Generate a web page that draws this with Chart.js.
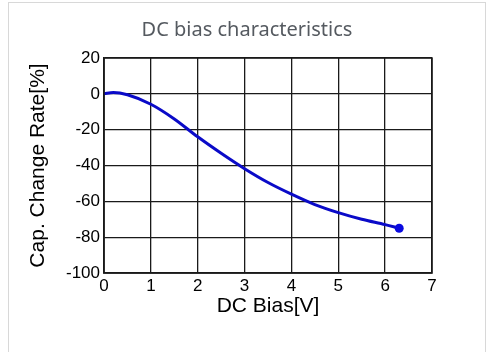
<!DOCTYPE html>
<html>
<head>
<meta charset="utf-8">
<script src="https://cdn.jsdelivr.net/npm/chart.js@4"></script>
<style>
  html, body { margin: 0; padding: 0; background: #fff; }
  #frame { position: absolute; left: 8px; top: 2px; width: 476px; height: 360px; border: 1px solid #d8d8d8; }
  #wrap { position: absolute; left: 0; top: 0; width: 486px; height: 352px; }
</style>
</head>
<body>
<div id="frame"></div>
<div id="wrap"><canvas id="chartCanvas" width="486" height="352"></canvas></div>
<script>
// DC bias curve
const biasV = [0, 0.2, 0.5, 1, 1.5, 2, 2.5, 3, 3.5, 4, 4.5, 5, 5.5, 6, 6.3];
const capChange = [0, 0.8, -0.5, -5.8, -14, -24, -33.2, -41.8, -49.5, -56, -61.8, -66.3, -70, -73, -75];
const xTicks = [0, 1, 2, 3, 4, 5, 6, 7];
const yTicks = [20, 0, -20, -40, -60, -80, -100];
const chartTitle = 'DC bias characteristics';

const tickFont = { family: '"Liberation Sans", Arial, sans-serif', size: 17 };
const axisTitleFont = { family: '"Liberation Sans", Arial, sans-serif', size: 21 };

const points = biasV.map((v, i) => ({ x: v, y: capChange[i] }));
// only the last point gets a marker
const radii = biasV.map((v, i) => (i === biasV.length - 1 ? 4.5 : 0));

const ctx = document.getElementById('chartCanvas').getContext('2d');
const chart = new Chart(ctx, {
  type: 'scatter',
  data: {
    datasets: [{
      data: points,
      showLine: true,
      borderColor: '#0a0ac8',
      backgroundColor: '#0a0ae0',
      borderWidth: 3,
      pointRadius: radii,
      pointHoverRadius: radii,
      pointBorderWidth: 0,
      cubicInterpolationMode: 'monotone'
    }]
  },
  options: {
    responsive: false,
    animation: false,
    layout: { padding: { left: 0, right: 54, top: 58, bottom: 0 } },
    plugins: {
      legend: { display: false },
      tooltip: { enabled: false },
      title: { display: false }
    },
    scales: {
      x: {
        type: 'linear',
        min: 0,
        max: 7,
        afterBuildTicks: s => { s.ticks = xTicks.map(v => ({ value: v })); },
        afterFit: s => { s.height = 79; },
        ticks: { color: '#000', font: tickFont, padding: 3, maxRotation: 0 },
        grid: { color: '#1a1a1a', lineWidth: 1.3, drawTicks: false },
        border: { color: '#1a1a1a', width: 1.5 },
        title: {
          display: true,
          text: 'DC Bias[V]',
          color: '#000',
          font: axisTitleFont,
          padding: { top: 0, bottom: 33 }
        }
      },
      y: {
        min: -100,
        max: 20,
        afterBuildTicks: s => { s.ticks = yTicks.map(v => ({ value: v })); },
        afterFit: s => { s.width = 104; },
        ticks: { color: '#000', font: tickFont, padding: 4 },
        grid: { color: '#1a1a1a', lineWidth: 1.3, drawTicks: false },
        border: { color: '#1a1a1a', width: 1.5 },
        title: {
          display: true,
          text: 'Cap. Change Rate[%]',
          color: '#000',
          font: axisTitleFont,
          padding: { top: 26, bottom: 0 }
        }
      }
    }
  },
  plugins: [{
    // closing line on the top and right edges of the plot, and the card title
    id: 'frameBox',
    afterDraw(c) {
      const a = c.chartArea;
      const g = c.ctx;
      g.save();
      g.strokeStyle = '#1a1a1a';
      g.lineWidth = 1.5;
      g.strokeRect(a.left, a.top, a.right - a.left, a.bottom - a.top);
      g.fillStyle = '#555a60';
      g.font = '20px "Noto Sans", "Open Sans", sans-serif';
      g.textAlign = 'center';
      g.textBaseline = 'middle';
      g.fillText(chartTitle, 247, 30);
      g.restore();
    }
  }]
});
</script>
</body>
</html>
